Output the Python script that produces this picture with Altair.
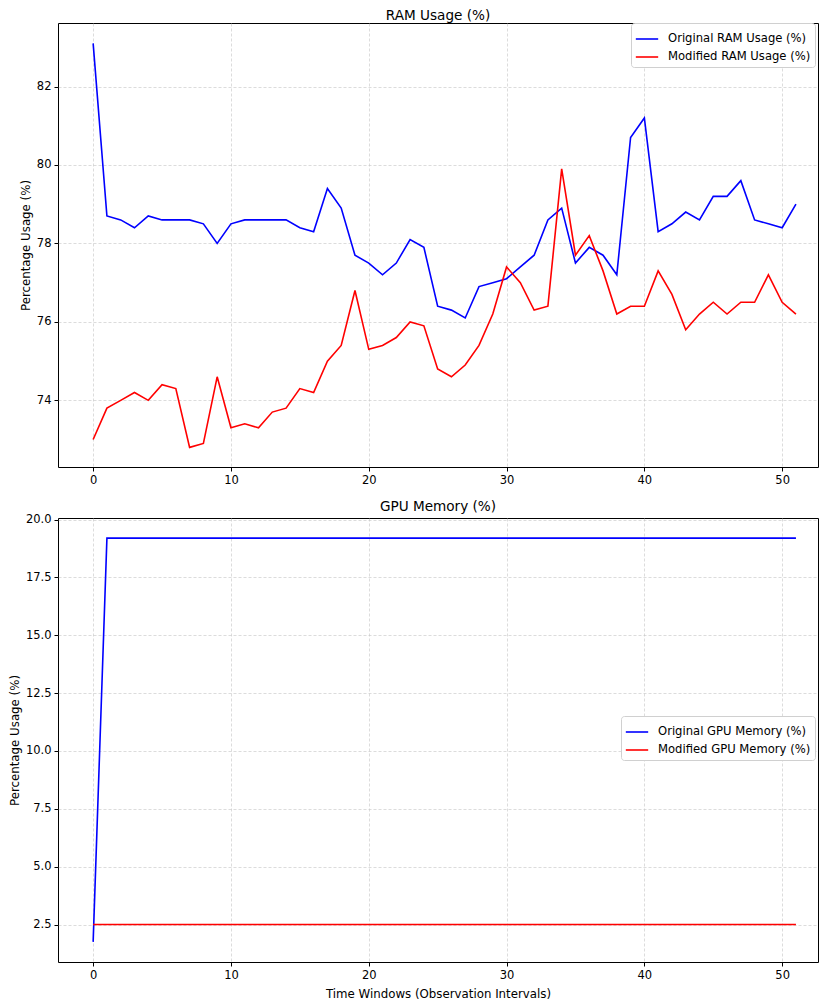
import altair as alt
import pandas as pd

time = list(range(52))

ram_original = [83.1, 78.7, 78.6, 78.4, 78.7, 78.6, 78.6, 78.6, 78.5, 78.0,
                78.5, 78.6, 78.6, 78.6, 78.6, 78.4, 78.3, 79.4, 78.9, 77.7,
                77.5, 77.2, 77.5, 78.1, 77.9, 76.4, 76.3, 76.1, 76.9, 77.0,
                77.1, 77.4, 77.7, 78.6, 78.9, 77.5, 77.9, 77.7, 77.2, 80.7,
                81.2, 78.3, 78.5, 78.8, 78.6, 79.2, 79.2, 79.6, 78.6, 78.5,
                78.4, 79.0]
ram_modified = [73.0, 73.8, 74.0, 74.2, 74.0, 74.4, 74.3, 72.8, 72.9, 74.6,
                73.3, 73.4, 73.3, 73.7, 73.8, 74.3, 74.2, 75.0, 75.4, 76.8,
                75.3, 75.4, 75.6, 76.0, 75.9, 74.8, 74.6, 74.9, 75.4, 76.2,
                77.4, 77.0, 76.3, 76.4, 79.9, 77.7, 78.2, 77.3, 76.2, 76.4,
                76.4, 77.3, 76.7, 75.8, 76.2, 76.5, 76.2, 76.5, 76.5, 77.2,
                76.5, 76.2]
gpu_original = [1.75, 19.2, 19.2, 19.2, 19.2, 19.2, 19.2, 19.2, 19.2, 19.2,
                19.2, 19.2, 19.2, 19.2, 19.2, 19.2, 19.2, 19.2, 19.2, 19.2,
                19.2, 19.2, 19.2, 19.2, 19.2, 19.2, 19.2, 19.2, 19.2, 19.2,
                19.2, 19.2, 19.2, 19.2, 19.2, 19.2, 19.2, 19.2, 19.2, 19.2,
                19.2, 19.2, 19.2, 19.2, 19.2, 19.2, 19.2, 19.2, 19.2, 19.2,
                19.2, 19.2]
gpu_modified = [2.5, 2.5, 2.5, 2.5, 2.5, 2.5, 2.5, 2.5, 2.5, 2.5,
                2.5, 2.5, 2.5, 2.5, 2.5, 2.5, 2.5, 2.5, 2.5, 2.5,
                2.5, 2.5, 2.5, 2.5, 2.5, 2.5, 2.5, 2.5, 2.5, 2.5,
                2.5, 2.5, 2.5, 2.5, 2.5, 2.5, 2.5, 2.5, 2.5, 2.5,
                2.5, 2.5, 2.5, 2.5, 2.5, 2.5, 2.5, 2.5, 2.5, 2.5,
                2.5, 2.5]

x_ticks = [0, 10, 20, 30, 40, 50]
ram_ticks = [74, 76, 78, 80, 82]
gpu_ticks = [2.5, 5.0, 7.5, 10.0, 12.5, 15.0, 17.5, 20.0]

ram_labels = ["Original RAM Usage (%)", "Modified RAM Usage (%)"]
gpu_labels = ["Original GPU Memory (%)", "Modified GPU Memory (%)"]

FONT = "DejaVu Sans"
W, H = 760, 444


def long_df(a, b, labels):
    rows = []
    for t, v in zip(time, a):
        rows.append({"t": t, "v": v, "s": labels[0]})
    for t, v in zip(time, b):
        rows.append({"t": t, "v": v, "s": labels[1]})
    return pd.DataFrame(rows)


def panel(df, labels, title, ydomain, yticks, yfmt, xtitle, lx, ly):
    x_axis = alt.Axis(values=x_ticks, grid=True, gridDash=[3, 2], gridColor="#c4c4c4",
                      gridWidth=0.6, tickColor="#000", tickSize=4, labelFontSize=11.5,
                      labelFont=FONT, labelColor="#000", domain=False, labelPadding=3,
                      titleFont=FONT, titleFontSize=11.8, titleFontWeight="normal",
                      titleColor="#000", titlePadding=8)
    y_axis = alt.Axis(values=yticks, format=yfmt, grid=True, gridDash=[3, 2],
                      gridColor="#c4c4c4", gridWidth=0.6, tickColor="#000", tickSize=4,
                      labelFontSize=11.5, labelFont=FONT, labelColor="#000", domain=False,
                      labelPadding=3, titleFont=FONT, titleFontSize=11.8,
                      titleFontWeight="normal", titleColor="#000", titlePadding=5)
    return alt.Chart(df).mark_line(strokeWidth=1.6, clip=True).encode(
        x=alt.X("t:Q", title=xtitle, scale=alt.Scale(domain=[-2.55, 52.6], nice=False, zero=False),
                axis=x_axis),
        y=alt.Y("v:Q", title="Percentage Usage (%)",
                scale=alt.Scale(domain=ydomain, nice=False, zero=False), axis=y_axis),
        color=alt.Color("s:N", scale=alt.Scale(domain=labels, range=["#0000ff", "#ff0000"]),
                        sort=labels,
                        legend=alt.Legend(title=None, orient="none", legendX=lx, legendY=ly,
                                          fillColor="white", strokeColor="#d0d0d0",
                                          padding=4, cornerRadius=3, symbolType="stroke",
                                          symbolStrokeWidth=1.6, symbolSize=500,
                                          labelFontSize=11.6, labelFont=FONT, labelOffset=9,
                                          labelColor="#000", rowPadding=-1)),
    ).properties(
        width=W, height=H,
        view=alt.ViewBackground(stroke="#000", strokeWidth=1),
        title=alt.TitleParams(title, font=FONT, fontSize=13.6, fontWeight="normal",
                              color="#000", offset=0),
    )


top = panel(long_df(ram_original, ram_modified, ram_labels), ram_labels, "RAM Usage (%)",
            [72.3, 83.62], ram_ticks, "d", None, 573, 0)
bottom = panel(long_df(gpu_original, gpu_modified, gpu_labels), gpu_labels, "GPU Memory (%)",
               [0.88, 20.07], gpu_ticks, ".1f", "Time Windows (Observation Intervals)", 563, 198)

chart = alt.vconcat(top, bottom, spacing=13).resolve_scale(color="independent").properties(
    padding={"left": 0, "right": 0, "top": 0, "bottom": 0}
).configure_view(stroke="#000", strokeWidth=1).configure(background="white")

chart.save("out.html", embed_options={"renderer": "svg", "actions": False})
